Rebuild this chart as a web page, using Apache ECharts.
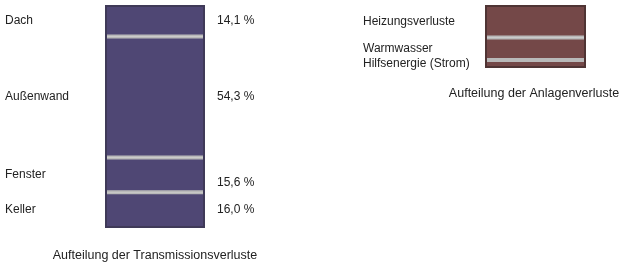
<!DOCTYPE html>
<html><head><meta charset="utf-8">
<script src="https://cdn.jsdelivr.net/npm/echarts@6/dist/echarts.min.js"></script>
<style>html,body{margin:0;padding:0;background:#fff}#c{width:625px;height:265px}</style>
</head><body><div id="c"></div>
<script>
// Transmission losses (percent of total transmission losses)
var transCategories = ['Dach', 'Außenwand', 'Fenster', 'Keller'];
var transValues = [14.1, 54.3, 15.6, 16.0];
var transLabels = ['14,1 %', '54,3 %', '15,6 %', '16,0 %'];
// Plant losses (same scale as transmission bar)
var plantCategories = ['Heizungsverluste', 'Warmwasser', 'Hilfsenergie (Strom)'];
var plantValues = [14.6, 10.1, 3.6];

var FONT = 'Liberation Sans, Arial, sans-serif';
var transColor = '#4f4774';
var plantColor = '#744848';
var sepColor = '#b9b9b9';
var outlineTrans = '#3f3a58';
var outlinePlant = '#4f3434';

var series = [];
function sum(a){ return a.reduce(function(s,v){return s+v;},0); }

transCategories.forEach(function(name, i){
  series.push({
    type: 'bar', xAxisIndex: 0, yAxisIndex: 0, stack: 'tFill', barWidth: 100, barGap: '-100%',
    data: [transValues[i]], silent: true,
    itemStyle: { color: transColor, borderColor: sepColor, borderWidth: 2 },
    label: { show: true, position: [-100, '50%'], align: 'left', verticalAlign: 'middle',
      formatter: name, fontFamily: FONT, fontSize: 12, color: '#222' }
  });
});
transCategories.forEach(function(name, i){
  series.push({
    type: 'bar', xAxisIndex: 0, yAxisIndex: 0, stack: 'tLab', barWidth: 100, barGap: '-100%',
    data: [transValues[i]], silent: true,
    itemStyle: { color: 'rgba(0,0,0,0)' },
    label: { show: true, position: [112, '50%'], align: 'left', verticalAlign: 'middle',
      offset: [0, name === 'Fenster' ? 8 : 0],
      formatter: transLabels[i], fontFamily: FONT, fontSize: 12, color: '#222' }
  });
});
series.push({
  type: 'bar', xAxisIndex: 0, yAxisIndex: 0, stack: 'tOut', barWidth: 100, barGap: '-100%',
  data: [sum(transValues)], silent: true, z: 3,
  itemStyle: { color: 'rgba(0,0,0,0)', borderColor: outlineTrans, borderWidth: 2 }
});

plantCategories.forEach(function(name, i){
  series.push({
    type: 'bar', xAxisIndex: 1, yAxisIndex: 1, stack: 'pFill', barWidth: 101, barGap: '-100%',
    data: [plantValues[i]], silent: true,
    itemStyle: { color: plantColor, borderColor: sepColor, borderWidth: 2 },
    label: { show: true, position: [-122, '50%'], align: 'left', verticalAlign: 'middle',
      formatter: name, fontFamily: FONT, fontSize: 12, color: '#222' }
  });
});
series.push({
  type: 'bar', xAxisIndex: 1, yAxisIndex: 1, stack: 'pOut', barWidth: 101, barGap: '-100%',
  data: [sum(plantValues)], silent: true, z: 3,
  itemStyle: { color: 'rgba(0,0,0,0)', borderColor: outlinePlant, borderWidth: 2 }
});

var chart = echarts.init(document.getElementById('c'), null, { renderer: 'canvas' });
chart.setOption({
  animation: false,
  backgroundColor: '#fff',
  title: [
    { text: 'Aufteilung der Transmissionsverluste', left: 150, top: 244, textAlign: 'center',
      textStyle: { fontFamily: FONT, fontSize: 12.5, fontWeight: 'normal', color: '#222' } },
    { text: 'Aufteilung der Anlagenverluste', left: 529, top: 82, textAlign: 'center',
      textStyle: { fontFamily: FONT, fontSize: 12.5, fontWeight: 'normal', color: '#222' } }
  ],
  grid: [
    { left: 105, top: 5, width: 100, height: 223 },
    { left: 485, top: 5, width: 101, height: 223 }
  ],
  xAxis: [
    { type: 'category', gridIndex: 0, data: ['T'], show: false },
    { type: 'category', gridIndex: 1, data: ['A'], show: false }
  ],
  yAxis: [
    { type: 'value', gridIndex: 0, min: 0, max: 100, inverse: true, show: false },
    { type: 'value', gridIndex: 1, min: 0, max: 100, inverse: true, show: false }
  ],
  series: series
});
</script></body></html>
